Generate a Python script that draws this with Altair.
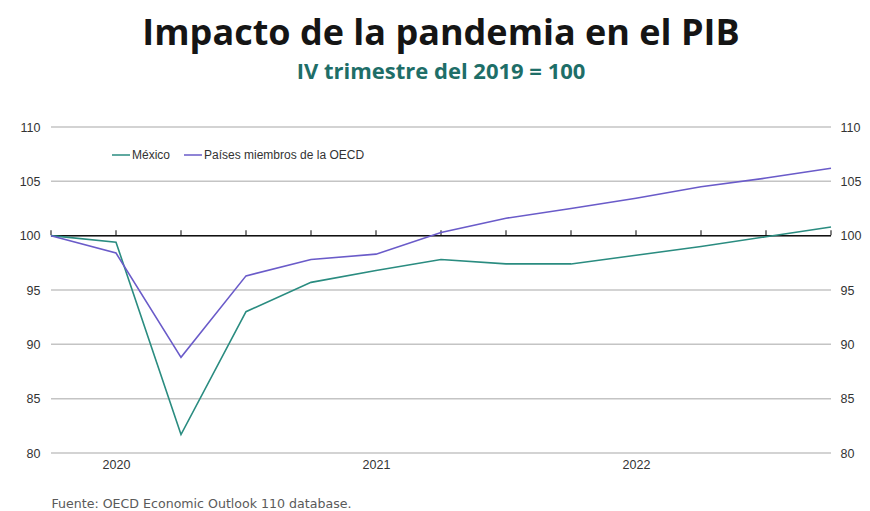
import altair as alt
import pandas as pd

# Quarters: IV-2019 ... IV-2022
quarters = ["2019-T4", "2020-T1", "2020-T2", "2020-T3", "2020-T4",
            "2021-T1", "2021-T2", "2021-T3", "2021-T4",
            "2022-T1", "2022-T2", "2022-T3", "2022-T4"]
mexico = [100.0, 99.4, 81.7, 93.0, 95.7, 96.8, 97.8, 97.4, 97.4, 98.2, 99.0, 99.9, 100.8]
ocde = [100.0, 98.4, 88.8, 96.3, 97.8, 98.3, 100.3, 101.6, 102.5, 103.45, 104.5, 105.3, 106.2]
series_names = ["México", "Países miembros de la OECD"]
year_labels = {1: "2020", 5: "2021", 9: "2022"}
y_ticks = [80, 85, 90, 95, 100, 105, 110]
base_value = 100

rows = []
for i, q in enumerate(quarters):
    rows.append({"idx": i, "trimestre": q, "serie": series_names[0], "valor": mexico[i]})
    rows.append({"idx": i, "trimestre": q, "serie": series_names[1], "valor": ocde[i]})
df = pd.DataFrame(rows)
qdf = pd.DataFrame({"idx": list(range(len(quarters))), "trimestre": quarters,
                    "base": [base_value] * len(quarters)})

FONT = "Liberation Sans"
label_expr = " : ".join([f"datum.value == {k} ? '{v}'" for k, v in year_labels.items()]) + " : ''"

x_scale = alt.Scale(domain=[0, len(quarters) - 1], nice=False, zero=False)
y_scale = alt.Scale(domain=[80, 110], nice=False, zero=False)

x_axis = alt.Axis(values=list(year_labels.keys()), labelExpr=label_expr, domain=False, ticks=False,
                  grid=False, labelFont=FONT, labelFontSize=12.5, labelColor="#333333", labelPadding=5,
                  title="Fuente: OECD Economic Outlook 110 database.", titleFont="DejaVu Sans",
                  titleFontSize=12.6, titleFontWeight="normal", titleColor="#5a5a5a",
                  titleAnchor="start", titleAlign="left", titleX=0, titleY=54, titleBaseline="alphabetic")

grid = alt.Chart(pd.DataFrame({"v": y_ticks})).mark_rule(color="#c4c4c4", strokeWidth=1.5).encode(
    y=alt.Y("v:Q", scale=y_scale,
            axis=alt.Axis(values=y_ticks, grid=False, domain=False, ticks=False, labelFont=FONT,
                          labelFontSize=12.5, labelColor="#333333", labelPadding=11, title=None))
)

right_axis = alt.Chart(pd.DataFrame({"v": y_ticks})).mark_rule(opacity=0).encode(
    y=alt.Y("v:Q", scale=y_scale,
            axis=alt.Axis(orient="right", values=y_ticks, grid=False, domain=False, ticks=False,
                          labelFont=FONT, labelFontSize=12.5, labelColor="#333333", labelPadding=9,
                          title=None))
)

base_line = alt.Chart(qdf).mark_rule(color="#111111", strokeWidth=1.5).encode(
    x=alt.X("min(idx):Q", scale=x_scale, axis=None),
    x2="max(idx):Q",
    y=alt.Y("max(base):Q", scale=y_scale, axis=None),
)

qticks = alt.Chart(qdf).mark_tick(color="#111111", thickness=1.5, size=5, orient="vertical",
                                  yOffset=-3).encode(
    x=alt.X("idx:Q", scale=x_scale, axis=None),
    y=alt.Y("base:Q", scale=y_scale, axis=None),
)

lines = alt.Chart(df).mark_line(strokeWidth=1.6).encode(
    x=alt.X("idx:Q", scale=x_scale, axis=x_axis),
    y=alt.Y("valor:Q", scale=y_scale, axis=None),
    color=alt.Color("serie:N",
                    scale=alt.Scale(domain=series_names, range=["#2a8c80", "#6a5bc9"]),
                    legend=alt.Legend(orient="none", legendX=60, legendY=18, direction="horizontal",
                                      title=None, symbolType="stroke", symbolSize=324,
                                      symbolStrokeWidth=1.5, labelFont=FONT, labelFontSize=12,
                                      labelColor="#333333", labelOffset=1, columnPadding=10,
                                      labelLimit=0)),
    order="idx:Q",
)

chart = alt.layer(grid, right_axis, base_line, qticks, lines).resolve_scale(
    y="shared", x="shared").resolve_axis(y="independent", x="independent").properties(
    width=780,
    height=326,
    padding={"left": 43, "top": 119, "right": 31, "bottom": 58},
    autosize=alt.AutoSizeParams(type="none"),
    title=alt.TitleParams(
        text="Impacto de la pandemia en el PIB",
        subtitle="IV trimestre del 2019 = 100",
        font="Open Sans", fontSize=36, fontWeight="bold", color="#151515",
        subtitleFont="Open Sans", subtitleFontSize=22, subtitleFontWeight="bold",
        subtitleColor="#1e6e68", subtitlePadding=9, anchor="middle", offset=37,
    ),
).configure_view(stroke=None)

chart.save("out.html", embed_options={"renderer": "svg", "actions": False})
